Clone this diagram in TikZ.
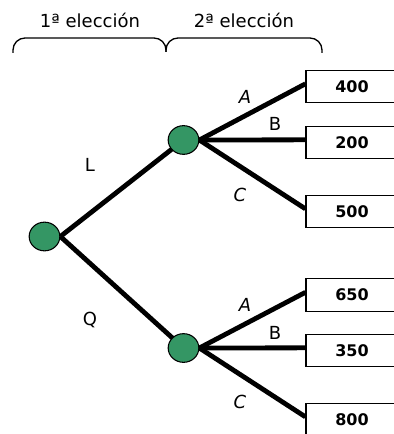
\documentclass[tikz,border=0pt]{standalone}
\usepackage{fontspec}
\setmainfont{DejaVu Sans}
\usepackage{tikz}
\usetikzlibrary{shapes.geometric}
\definecolor{nodegreen}{RGB}{52,150,100}
\pgfdeclarelayer{background}
\pgfsetlayers{background,main}
\tikzset{%
  choice/.style = {ellipse,draw,fill=nodegreen,line width=0.8pt,
        minimum width=23pt,minimum height=21.5pt,inner sep=0pt},
  payoff/.style = {rectangle,draw,line width=0.9pt,minimum width=69pt,
        minimum height=24.5pt,inner sep=0pt,
        font=\fontsize{12}{14}\selectfont\bfseries},
  branch/.style = {line width=3.6pt},
  lbl/.style = {font=\fontsize{13.5}{16}\selectfont}
}

\begin{document}
\begin{tikzpicture}[x=0.75pt,y=-0.75pt]
                \useasboundingbox (0,0) rectangle (393,434);
                \node[lbl] (h1) at (90,20) {1\textordfeminine{} elección};
                \node[lbl] (h2) at (244,20) {2\textordfeminine{} elección};
                \draw[line width=1pt,rounded corners=9pt] (13,53) -- (13,38) -- (166,38) -- (166,52);
                \draw[line width=1pt,rounded corners=9pt] (166,52) -- (166,38) -- (322,38) -- (322,53);

                \node[choice] (r) at (44.5,236.5) {};
                \node[choice] (l) at (183.5,140) {};
                \node[choice] (q) at (183.5,348) {};

                \node[payoff] (la) at (352,86.5) {400};
                \node[payoff] (lb) at (352,142.5) {200};
                \node[payoff] (lc) at (352,211.5) {500};
                \node[payoff] (qa) at (352,295) {650};
                \node[payoff] (qb) at (352,350.5) {350};
                \node[payoff] (qc) at (352,419.5) {800};

                \begin{pgfonlayer}{background}
                \path[branch] (r.east) edge (l.center)
                              (r.east) edge (q.center)
                              (l.east) edge ([yshift=2pt]la.west)
                              (l.east) edge ([yshift=2pt]lb.west)
                              (l.east) edge ([yshift=2pt]lc.west)
                              (q.east) edge ([yshift=2pt]qa.west)
                              (q.east) edge ([yshift=2pt]qb.west)
                              (q.east) edge ([yshift=2pt]qc.west);
                \end{pgfonlayer}

                \node[lbl] (tl) at (90,165) {L};
                \node[lbl] (tq) at (90,320) {Q};
                \node[lbl] (la-t) at (245,97) {\itshape A};
                \node[lbl] (lb-t) at (275,124) {B};
                \node[lbl] (lc-t) at (240,195) {\itshape C};
                \node[lbl] (qa-t) at (245,305) {\itshape A};
                \node[lbl] (qb-t) at (275,333) {B};
                \node[lbl] (qc-t) at (240,402) {\itshape C};
            \end{tikzpicture}
\end{document}
